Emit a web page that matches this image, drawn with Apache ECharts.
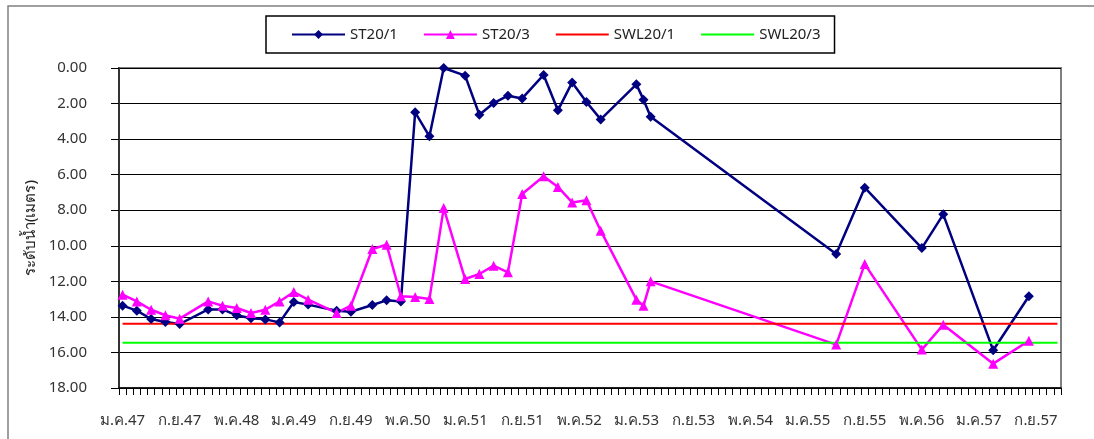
<!DOCTYPE html>
<html>
<head>
<meta charset="utf-8">
<script src="https://cdn.jsdelivr.net/npm/echarts@6/dist/echarts.min.js"></script>
<style>
  html, body { margin: 0; padding: 0; background: #fff; }
  #main { width: 1094px; height: 439px; }
</style>
</head>
<body>
<div id="main"></div>
<script>
// เดือน / ปี สำหรับแกน x
var monthNames = ['ม.ค.', 'ก.พ.', 'มี.ค.', 'เม.ย.', 'พ.ค.', 'มิ.ย.', 'ก.ค.', 'ส.ค.', 'ก.ย.', 'ต.ค.', 'พ.ย.', 'ธ.ค.'];
var years = [47, 48, 49, 50, 51, 52, 53, 54, 55, 56, 57];

// วันที่วัดระดับน้ำ
var dates = ['ม.ค.47', 'มี.ค.47', 'พ.ค.47', 'ก.ค.47', 'ก.ย.47', 'ม.ค.48', 'มี.ค.48', 'พ.ค.48', 'ก.ค.48', 'ก.ย.48',
  'พ.ย.48', 'ม.ค.49', 'มี.ค.49', 'ก.ค.49', 'ก.ย.49', 'ธ.ค.49', 'ก.พ.50', 'เม.ย.50', 'มิ.ย.50', 'ส.ค.50',
  'ต.ค.50', 'ม.ค.51', 'มี.ค.51', 'พ.ค.51', 'ก.ค.51', 'ก.ย.51', 'ธ.ค.51', 'ก.พ.52', 'เม.ย.52', 'มิ.ย.52',
  'ส.ค.52', 'ม.ค.53', 'ก.พ.53', 'มี.ค.53', 'พ.ค.55', 'ก.ย.55', 'พ.ค.56', 'ส.ค.56', 'มี.ค.57', 'ส.ค.57'];

var st20_1 = [13.37, 13.65, 14.12, 14.29, 14.40, 13.58, 13.58, 13.91, 14.08, 14.14,
  14.31, 13.16, 13.31, 13.65, 13.71, 13.33, 13.07, 13.14, 2.49, 3.84,
  0.00, 0.43, 2.63, 1.97, 1.56, 1.71, 0.39, 2.38, 0.81, 1.91,
  2.89, 0.92, 1.78, 2.74, 10.46, 6.73, 10.13, 8.23, 15.88, 12.84];

var st20_3 = [12.75, 13.13, 13.60, 13.91, 14.10, 13.13, 13.37, 13.50, 13.78, 13.60,
  13.13, 12.60, 13.03, 13.78, 13.37, 10.18, 9.94, 12.84, 12.88, 13.00,
  7.88, 11.87, 11.59, 11.12, 11.49, 7.09, 6.09, 6.69, 7.56, 7.44,
  9.15, 13.03, 13.37, 12.00, 15.56, 11.03, 15.84, 14.44, 16.63, 15.34];

// ระดับน้ำปลอดภัย
var swl20_1 = 14.38;
var swl20_3 = 15.45;

var categories = [];
years.forEach(function (y) {
  monthNames.forEach(function (m) { categories.push(m + y); });
});

function pairs(vals) {
  return dates.map(function (d, i) { return [d, vals[i]]; });
}
var first = categories[0], last = categories[categories.length - 1];

var font = 'Tahoma, "Noto Sans", "DejaVu Sans", sans-serif';
var myChart = echarts.init(document.getElementById('main'));
var option = {
  backgroundColor: '#fff',
  animation: false,
  textStyle: { fontFamily: font },
  graphic: [{
    type: 'rect',
    shape: { x: 8, y: 6, width: 1100, height: 450 },
    style: { fill: 'none', stroke: '#808080', lineWidth: 1.5 },
    silent: true
  }],
  legend: {
    left: 266,
    top: 16,
    padding: [11, 14, 11, 25],
    borderColor: '#000',
    borderWidth: 1.5,
    itemWidth: 53,
    itemHeight: 11,
    itemGap: 25,
    textStyle: { fontSize: 15, color: '#222', fontFamily: font },
    data: [
      'ST20/1',
      'ST20/3',
      { name: 'SWL20/1', itemStyle: { opacity: 0 } },
      { name: 'SWL20/3', itemStyle: { opacity: 0 } }
    ]
  },
  grid: {
    left: 119, right: 33, top: 68, bottom: 51,
    show: true, borderColor: '#808080', borderWidth: 2
  },
  xAxis: {
    type: 'category',
    position: 'bottom',
    data: categories,
    boundaryGap: true,
    axisLine: { onZero: false, lineStyle: { color: '#000', width: 1.5 } },
    axisTick: { show: true, interval: 0, length: 7, lineStyle: { color: '#000', width: 1 } },
    axisLabel: { interval: 7, fontSize: 15, color: '#333', margin: 25, fontFamily: font },
    splitLine: { show: false }
  },
  yAxis: {
    type: 'value',
    inverse: true,
    min: 0, max: 18, interval: 2,
    name: 'ระดับน้ำ(เมตร)',
    nameLocation: 'middle',
    nameGap: 78,
    nameTextStyle: { fontSize: 15, color: '#222', fontFamily: font },
    axisLine: { show: true, lineStyle: { color: '#333', width: 2 } },
    axisTick: { show: true, length: 8, lineStyle: { color: '#000' } },
    axisLabel: { fontSize: 15, color: '#333', margin: 32, fontFamily: font,
      formatter: function (v) { return v.toFixed(2); } },
    splitLine: { lineStyle: { color: '#000', width: 1 } }
  },
  series: [
    {
      name: 'ST20/1', type: 'line', data: pairs(st20_1),
      symbol: 'diamond', symbolSize: 10, showAllSymbol: true,
      itemStyle: { color: '#000080' }, lineStyle: { color: '#000080', width: 2.5 }
    },
    {
      name: 'ST20/3', type: 'line', data: pairs(st20_3),
      symbol: 'triangle', symbolSize: 10, showAllSymbol: true,
      itemStyle: { color: '#FF00FF' }, lineStyle: { color: '#FF00FF', width: 2.5 }
    },
    {
      name: 'SWL20/1', type: 'line', data: [[first, swl20_1], [last, swl20_1]],
      symbol: 'none', itemStyle: { color: '#FF0000' }, lineStyle: { color: '#FF0000', width: 2 }
    },
    {
      name: 'SWL20/3', type: 'line', data: [[first, swl20_3], [last, swl20_3]],
      symbol: 'none', itemStyle: { color: '#00FF00' }, lineStyle: { color: '#00FF00', width: 2 }
    }
  ]
};
myChart.setOption(option);
window.addEventListener('resize', function () { myChart.resize(); });
</script>
</body>
</html>
